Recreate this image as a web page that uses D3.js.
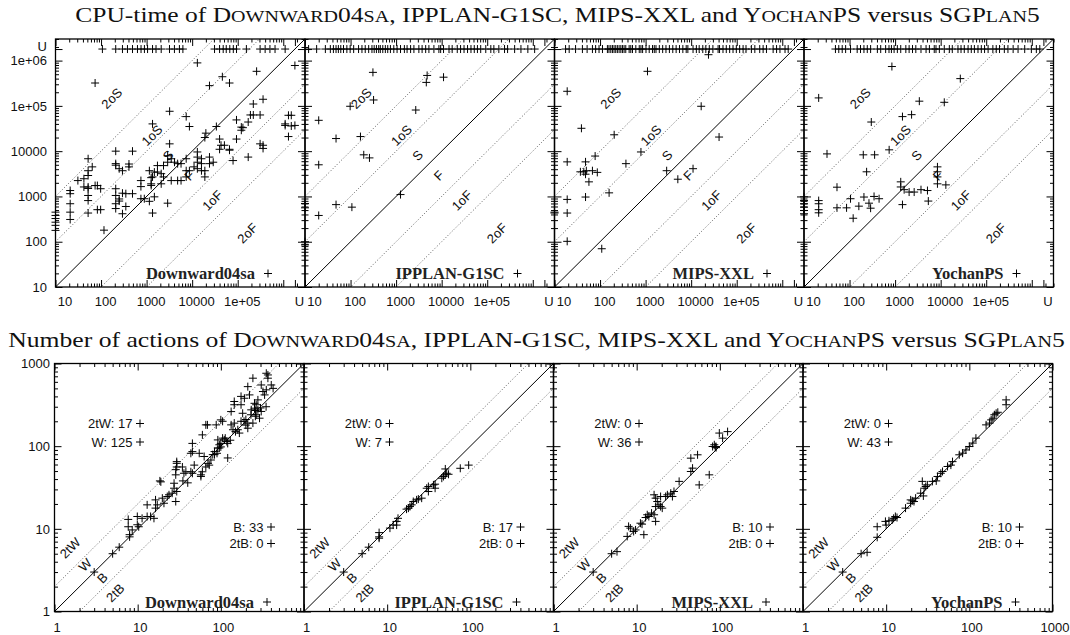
<!DOCTYPE html>
<html>
<head>
<meta charset="utf-8">
<script src="https://cdn.jsdelivr.net/npm/d3@7"></script>
<style>
  body { margin: 0; background: #fff; }
  svg { display: block; }
</style>
</head>
<body>
<svg id="chart" width="1070" height="635"></svg>
<script>
// ---------------------------------------------------------------------------
// Data: SGPlan5 (x) compared with four other planners (y).
// CPU time in milliseconds; "U" marks a problem that was not solved.
// ---------------------------------------------------------------------------
const UNSOLVED = 1.8e6;
const planners = ["Downward04sa", "IPPLAN-G1SC", "MIPS-XXL", "YochanPS"];

// x values (SGPlan5 time) of problems that the competitor left unsolved
const cpuUnsolvedDownward04sa = [107, 210, 295, 380, 490, 630, 755, 895, 1050, 1350, 1610, 2090, 3180, 4080, 5250, 6260,
  3.1e4, 4.0e4, 4.8e4, 5.6e4, 6.7e4, 8.0e4, 9.4e4, 1.55e5, 3.1e5, 4.0e5, 5.1e5, 6.6e5, 1.1e6];
const cpuUnsolvedIPPLAN = [12, 18, 28, 36, 42, 48, 54, 61, 70, 83, 98, 117, 150, 178, 210, 250, 295, 330, 370, 415, 450,
  510, 580, 655, 750, 890, 1050, 1250, 1520, 1740, 2080, 2460, 3160, 3720, 4460, 5250, 6760, 8700, 9500, 1.1e4, 1.45e4,
  1.7e4, 2.2e4, 2.6e4, 3.1e4, 3.7e4, 4.4e4, 5.2e4, 6.1e4, 7.2e4, 9.3e4, 1.2e5, 1.4e5, 1.8e5, 2.4e5, 2.8e5, 4.0e5,
  5.5e5, 7.8e5, 1.1e6];
const cpuUnsolvedMIPS = [17.5, 21, 29, 41, 52, 68, 80, 95, 113, 145, 157, 172, 187, 203, 221, 240, 262, 286, 310, 337,
  367, 435, 473, 515, 610, 725, 790, 860, 1020, 1200, 1420, 1550, 1690, 2000, 2370, 2800, 3330, 3950, 4680, 5540, 6570,
  7780, 8470, 1.1e4, 1.3e4, 1.5e4, 1.8e4, 2.1e4, 2.5e4, 3.0e4, 3.9e4, 4.2e4, 5.0e4, 5.9e4, 7.0e4, 8.3e4, 9.8e4, 1.16e5,
  1.38e5, 1.6e5, 2.1e5, 2.5e5, 3.2e5, 3.8e5, 4.5e5, 6.3e5, 7.5e5, 8.9e5, 1.15e6, 1.35e6];
const cpuUnsolvedYochan = [49, 58, 69, 82, 105, 147, 174, 207, 245, 290, 408, 483, 620, 735, 830, 950, 1120, 1330, 1720,
  2030, 2410, 2850, 3700, 4780, 5660, 7230, 7900, 9360, 1.2e4, 1.55e4, 1.8e4, 2.4e4, 2.8e4, 3.3e4, 4.0e4, 4.7e4, 5.5e4,
  6.6e4, 7.8e4, 9.2e4, 1.1e5, 1.4e5, 1.66e5, 1.96e5, 2.5e5, 3.0e5, 3.9e5, 5.0e5, 7.0e5, 9.8e5, 1.26e6, 1.5e6];

// problems solved by the competitor: [SGPlan5 time, competitor time]
const cpuDownward04sa = [
  [10, 450], [10, 380], [10, 325], [10, 270], [10, 230], [10, 178],
  [21, 1350], [21, 1150], [21, 690], [21, 450], [21, 310], [31, 2240], [42, 2460], [42, 1620],
  [52, 6800], [52, 3700], [52, 2900], [52, 1620], [52, 1500], [52, 1050], [52, 810], [52, 430],
  [64, 4500], [74, 1740], [74, 3.2e5], [83, 1740], [83, 510], [98, 1480], [98, 510], [116, 180],
  [210, 1.0e4], [210, 5300], [210, 4900], [210, 1480], [210, 1050], [210, 690], [210, 540],
  [250, 4100], [250, 880], [250, 790], [295, 3700], [295, 1180], [295, 415], [350, 1150], [350, 600],
  [410, 4500], [410, 5200], [490, 1.0e4], [490, 1150], [750, 2240], [750, 1650], [750, 890], [890, 890],
  [1150, 3700], [1150, 780], [1260, 1900], [1260, 1750], [1260, 2600], [1350, 2700], [1350, 430], [1350, 4.0e4],
  [1480, 980], [1480, 3450], [1730, 4800], [1730, 3450], [2090, 3180], [2090, 1900], [2350, 4800], [2350, 2700],
  [2900, 710], [2900, 5700], [2900, 7900], [3200, 7.6e4], [3200, 1.45e4], [3470, 2240], [3470, 6800], [4100, 5700],
  [4800, 2240], [4800, 5300], [5700, 5300], [5700, 2240], [7400, 5.8e4], [7400, 6800], [7400, 3700], [7400, 2700],
  [8700, 3.5e4], [8700, 3700], [1.1e4, 4500], [1.3e4, 9600], [1.3e4, 7400], [1.3e4, 5700], [1.3e4, 4100], [1.3e4, 8.9e5],
  [1.6e4, 6800], [1.6e4, 5300], [1.6e4, 3700], [1.9e4, 2.0e4], [1.9e4, 2700], [1.9e4, 3700], [2.0e4, 2.5e4],
  [2.4e4, 7400], [2.4e4, 5300], [2.4e4, 2.8e5], [2.9e4, 5700], [3.4e4, 3.5e4], [4.0e4, 1.85e4], [4.0e4, 1.1e4],
  [4.3e4, 1.35e4], [4.6e4, 4.4e5], [5.1e4, 1.35e4], [6.6e4, 1.1e4], [6.6e4, 1.05e4], [6.6e4, 3.2e5], [7.9e4, 6200],
  [9.4e4, 4.9e4], [9.4e4, 1.85e4], [1.2e5, 2.9e4], [1.2e5, 3.4e4], [1.3e5, 3.3e4], [1.7e5, 4.4e4], [1.7e5, 7400],
  [1.9e5, 6.3e4], [2.2e5, 1.1e5], [2.2e5, 6.3e4], [2.6e5, 5.8e5], [3.1e5, 6.3e4], [3.1e5, 1.45e4],
  [3.6e5, 1.4e5], [3.6e5, 1.35e4], [3.6e5, 1.15e4], [1.1e6, 4.0e4], [1.1e6, 3.7e4], [1.3e6, 6.2e4], [1.3e6, 2.1e4],
  [1.5e6, 6.2e4], [1.5e6, 3.6e4], ["U", 7.8e5], ["U", 3.7e4]
];
const cpuIPPLAN = [
  [310, 5.5e5], [4800, 4.7e5], [4600, 3.3e5], [1.1e4, 4.3e5], [98, 9.8e4], [320, 1.35e5], [2700, 8.1e4],
  [20, 4.8e4], [48, 1.9e4], [165, 2.1e4], [195, 8300], [260, 7100], [20, 5000], [48, 660], [107, 580], [20, 380],
  [1250, 1100], [10, 700], [10, 560], [10, 100], [10, 85]
];
const cpuMIPS = [
  [2.4e4, 1.35e6], [1100, 5.8e5], [19, 2.1e5], [1.66e4, 9.8e4], [39, 3.2e4], [204, 2.3e4], [4.1e4, 2.05e4],
  [790, 9600], [78, 7800], [19, 5800], [48, 5800], [370, 5300], [37, 3500], [44, 3500], [50, 3700], [68, 3700],
  [87, 3400], [48, 3100], [57, 2100], [2900, 3700], [5100, 2400], [1.1e4, 4100], [158, 1200], [19, 860], [48, 970],
  [19, 430], [19, 102], [109, 70], [10, 450], [10, 430]
];
const cpuYochan = [
  [850, 7.4e5], [2.7e4, 4.0e5], [21, 1.5e5], [3400, 1.27e5], [1.2e4, 1.2e5], [1450, 5.8e4], [2300, 6.4e4],
  [300, 4.4e4], [32, 8700], [200, 8300], [355, 8300], [740, 1.07e4], [237, 3500], [53, 1600], [105, 890], [207, 970],
  [345, 1000], [445, 890], [267, 710], [53, 560], [86, 560], [160, 610], [290, 550], [120, 330],
  [21, 810], [21, 690], [21, 510], [21, 435], [10, 980], [10, 810], [10, 690], [10, 580], [10, 490], [10, 415],
  [1330, 2100], [1330, 1620], [1580, 1410], [2030, 1250], [2620, 1250], [3700, 1410], [5130, 1350], [5360, 790],
  [1450, 660], [8500, 4500], [8500, 3500], [8500, 2700], [8500, 1900], [1.3e4, 1800]
];

// Number of actions: [SGPlan5 plan length, competitor plan length]
const actDownward04sa = [
  [3, 3], [5, 5], [6, 6], [8, 8], [8, 8.5], [7.7, 10.6], [7.7, 13], [8.6, 9.7], [9.9, 11.2], [9.9, 14.1], [11.3, 13.4],
  [13, 14.1], [13, 19.5], [14.3, 14.1], [15.7, 13.4], [10.3, 10.6], [16.4, 17.8], [16.4, 22.4], [17.2, 19.5],
  [18.5, 38], [19.8, 23.5], [20.7, 20.4], [19, 37], [22.7, 24.6], [23.8, 25.8], [26, 27], [27.4, 31], [27.4, 35.6],
  [28.7, 21.4], [29.5, 65], [29.5, 62], [28.7, 52], [28.7, 45], [29.5, 56], [29.5, 28.3], [34.5, 56], [36, 47],
  [38, 49], [35, 38], [43.6, 82], [45.5, 86], [43.6, 49], [45.5, 47], [47.9, 59], [45.5, 108], [55, 82], [57.6, 45],
  [57.6, 43], [60, 49], [63, 75], [66, 56], [60, 137], [66, 181], [69, 181], [72.5, 59], [76, 68], [80, 79], [84, 86],
  [88, 181], [92, 119], [96, 104], [100, 108], [84, 79], [92, 95], [96, 95], [100, 98], [100, 208], [105, 200],
  [105, 125], [110, 119], [113, 125], [118, 114], [121, 108], [121, 72], [133, 181], [145, 190], [140, 158],
  [160, 158], [167, 144], [175, 200], [175, 317], [183, 250], [192, 380], [211, 190], [211, 165], [221, 417],
  [232, 275], [243, 190], [254, 288], [254, 330], [266, 240], [266, 317], [279, 363], [292, 218], [306, 550],
  [321, 458], [336, 417], [352, 480], [368, 727], [352, 762], [368, 664], [404, 550], [306, 263], [279, 275],
  [425, 500], [243, 664], [211, 525], [175, 400], [145, 317], [145, 347], [133, 262], [150, 150], [200, 210],
  [230, 240], [260, 270], [300, 290], [190, 200], [40, 36], [70, 62], [90, 82], [130, 118], [200, 180], [260, 230],
  [350, 300]
];
const actIPPLAN = [
  [3, 3], [5, 5], [6, 6], [8, 8], [8, 9], [8, 7.7], [10.8, 10.2], [11.8, 11.1], [13, 12.3], [13.5, 13.4], [13, 11.1],
  [17.1, 17.3], [18, 17.8], [18.8, 18.6], [19.7, 19.5], [20.6, 21.4], [22.6, 22.4], [23.7, 22.9], [26, 23.5],
  [29.9, 31], [31.3, 32.5], [31.3, 28.3], [36, 34], [37.7, 31], [37.7, 34.7], [45.4, 41], [47.6, 43], [49.9, 45],
  [52, 47], [54.7, 45.7], [75.7, 54], [95.5, 59], [50, 53]
];
const actMIPS = [
  [3, 3], [5, 5], [5.8, 5.3], [7.7, 8.1], [8, 10.7], [8.4, 10.2], [9.2, 9.3], [9.7, 9.7], [11.1, 11.7], [11.6, 11.4],
  [12.2, 8.5], [12.8, 13.7], [13.4, 14.8], [14, 14.1], [15.1, 15.5], [16.2, 14.8], [16.9, 12.3], [16.2, 25.8],
  [16.9, 23.5], [16.9, 18.6], [17.7, 21.4], [18.5, 19.5], [19.4, 18.6], [19.4, 24.6], [20.3, 17.8], [22.3, 24.6],
  [23.4, 25.8], [25.7, 27], [26.9, 24.6], [28.1, 28.3], [32.4, 37.5], [44.8, 49.4], [44.8, 71.6], [47, 54.2],
  [54, 78.6], [56.5, 34], [74.6, 45], [81.9, 99], [90, 96], [85.8, 104], [98.6, 144], [124, 150], [108, 125],
  [90, 99], [88, 98]
];
const actYochan = [
  [3, 3], [5, 5], [5.9, 5.2], [7.8, 7.9], [7.8, 10.6], [9.8, 12.3], [10.8, 12.5], [11.8, 12.8], [12.3, 13.4],
  [12.9, 14.1], [13.5, 13.7], [10, 11.1], [17.1, 17.8], [19.7, 22.4], [19.7, 20.4], [20.6, 21.8], [21.6, 21.4],
  [22.6, 23.5], [26, 27], [27.2, 37.5], [28.6, 31], [29.9, 32.5], [31.3, 34], [36, 37.5], [41.4, 43], [45.4, 47],
  [47.6, 49.4], [54.7, 56.8], [60, 59], [62.8, 65], [75.7, 78.6], [83, 82.3], [91, 90], [100, 99], [110, 109],
  [120, 125], [159, 181], [175, 190], [183, 208], [192, 218], [200, 240], [210, 250], [220, 257], [277, 317],
  [277, 363], [28, 25], [40, 38]
];

// Counts of problems in each region of the plan-length plots
const count2tW = [17, 0, 0, 0];
const countW = [125, 7, 36, 43];
const countB = [33, 17, 10, 10];
const count2tB = [0, 0, 0, 0];

// Axis ticks and their labels
const cpuDomain = [10, 3e6];
const cpuYTicks = [10, 100, 1000, 10000, 1e5, 1e6, "U"];
const cpuYTickLabels = ["10", "100", "1000", "10000", "1e+05", "1e+06", "U"];
const cpuXTicks = [10, 100, 1000, 10000, 1e5, "U"];
const cpuXTickLabels = ["10", "100", "1000", "10000", "1e+05", "U"];
const actDomain = [1, 1000];
const actTicks = [1, 10, 100, 1000];
const actTickLabels = ["1", "10", "100", "1000"];

// Diagonal guides: factor applied to x, and the zone names written along them
const cpuGuides = [100, 10, 1, 0.1, 0.01];
const cpuZoneLabels = ["2oS", "1oS", "S", "F", "1oF", "2oF"];
const cpuZoneAt = [[172, 1.47e5], [1315, 2.23e4], [2970, 8070], [8630, 2920], [2.78e4, 820], [1.64e5, 155]];
const actGuides = [2, 1, 0.5];
const actZoneLabels = ["2tW", "W", "B", "2tB"];
const actZoneAt = [[1.54, 5.88], [2.33, 3.66], [3.75, 2.55], [5.38, 1.68]];

// ---------------------------------------------------------------------------
const svg = d3.select("#chart");
svg.append("rect").attr("width", 1070).attr("height", 635).attr("fill", "#fff");

const SANS = '"Liberation Sans", Arial, Helvetica, sans-serif';
const SERIF = '"Liberation Serif", "Times New Roman", Times, serif';
const CROSS = "M-4,0H4M0,-4V4";
const val = v => (v === "U" ? UNSOLVED : v);

function minorTicks(lo, hi) {
  const out = [];
  for (let d = lo; d < hi; d *= 10)
    for (let m = 2; m <= 9; m++) if (d * m <= hi) out.push(d * m);
  return out;
}

// Title with small-capital runs, widened to span the given width
function title(cx, baseline, width, parts) {
  const g = svg.append("g");
  const t = g.append("text")
    .attr("x", 0).attr("y", 0)
    .attr("text-anchor", "middle")
    .attr("font-family", SERIF)
    .attr("font-size", 21)
    .attr("fill", "#111");
  parts.forEach(([s, small]) => t.append("tspan").attr("font-size", small ? 16.5 : 21).text(s));
  const w = t.node().getComputedTextLength();
  g.attr("transform", `translate(${cx},${baseline}) scale(${width / w},1)`);
}

// planner names set in small capitals: [text, isSmallCap]
const titleTail = [["D", 0], ["OWNWARD", 1], ["04", 0], ["SA", 1],
  [", IPPLAN-G1SC, MIPS-XXL and Y", 0], ["OCHAN", 1], ["PS versus SGP", 0], ["LAN", 1], ["5", 0]];
title(557.5, 21.5, 965, [["CPU-time of ", 0], ...titleTail]);
title(536.5, 347, 1057, [["Number of actions of ", 0], ...titleTail]);

function drawPanel(cfg) {
  const { id, x0, y0, w, h, domain } = cfg;
  const g = svg.append("g").attr("transform", `translate(${x0},${y0})`);
  const x = d3.scaleLog().domain(domain).range([0, w]);
  const y = d3.scaleLog().domain(domain).range([h, 0]);

  const clipId = "clip-" + id;
  g.append("clipPath").attr("id", clipId)
    .append("rect").attr("width", w).attr("height", h);

  // diagonal guides
  const guides = g.append("g").attr("clip-path", `url(#${clipId})`);
  cfg.guides.forEach(r => {
    guides.append("line")
      .attr("x1", x(domain[0])).attr("y1", y(domain[0] * r))
      .attr("x2", x(domain[1])).attr("y2", y(domain[1] * r))
      .attr("stroke", r === 1 ? "#000" : "#333")
      .attr("stroke-width", r === 1 ? 1 : 0.8)
      .attr("stroke-dasharray", r === 1 ? null : "1,2");
  });

  // zone names along the guides
  cfg.zoneLabels.forEach((name, i) => {
    const [zx, zy] = cfg.zoneAt[i];
    g.append("text")
      .attr("transform", `translate(${x(zx)},${y(zy)}) rotate(-45)`)
      .attr("text-anchor", "middle").attr("dy", "0.35em")
      .attr("font-family", SANS).attr("font-size", 13).attr("fill", "#111")
      .text(name);
  });

  // ticks
  const put = (axis, tx, ty) => {
    const a = g.append("g").attr("transform", `translate(${tx},${ty})`).call(axis);
    a.select(".domain").remove();
    a.attr("font-family", SANS).attr("font-size", 13).attr("color", "#000");
    a.selectAll("text").attr("fill", "#111");
    return a;
  };
  const minors = minorTicks(domain[0], domain[1]);
  const blank = () => "";
  put(d3.axisLeft(y).tickValues(minors).tickSize(-3.5).tickFormat(blank), 0, 0);
  put(d3.axisRight(y).tickValues(minors).tickSize(-3.5).tickFormat(blank), w, 0);
  put(d3.axisBottom(x).tickValues(minors).tickSize(-3.5).tickFormat(blank), 0, h);
  put(d3.axisTop(x).tickValues(minors).tickSize(-3.5).tickFormat(blank), 0, 0);

  const yLab = new Map(cfg.yTicks.map((t, i) => [val(t), cfg.yLabels[i]]));
  const xLab = new Map(cfg.xTicks.map((t, i) => [val(t), cfg.xLabels[i]]));
  const majorsY = cfg.yTicks.map(val);
  const majorsX = cfg.xMajor.map(val);

  const ly = put(d3.axisLeft(y).tickValues(majorsY).tickSize(-7).tickPadding(cfg.padY)
    .tickFormat(d => (cfg.showY ? yLab.get(d) : "")), 0, 0);
  ly.selectAll("text").attr("y", d => (d === UNSOLVED ? -3 : 0));
  put(d3.axisRight(y).tickValues(majorsY).tickSize(-7).tickFormat(blank), w, 0);
  const bx = put(d3.axisBottom(x).tickValues(majorsX).tickSize(-7).tickPadding(cfg.padX)
    .tickFormat(d => xLab.get(d) || ""), 0, h);
  bx.selectAll("text").attr("dx", d => cfg.labelDx(d));
  put(d3.axisTop(x).tickValues(majorsX).tickSize(-7).tickFormat(blank), 0, 0);

  // frame
  g.append("rect").attr("width", w).attr("height", h)
    .attr("fill", "none").attr("stroke", "#000").attr("stroke-width", 1.3);

  // key
  g.append("text")
    .attr("x", w - 50).attr("y", cfg.keyY).attr("dy", "0.35em")
    .attr("text-anchor", "end")
    .attr("font-family", SERIF).attr("font-weight", "bold").attr("font-size", 16.5)
    .attr("fill", "#222")
    .text(cfg.name);
  g.append("path").attr("d", CROSS)
    .attr("transform", `translate(${w - 37},${cfg.keyY})`)
    .attr("stroke", "#000").attr("fill", "none");

  // points
  g.append("g").selectAll("path").data(cfg.points).join("path")
    .attr("d", CROSS)
    .attr("transform", d => `translate(${x(val(d[0]))},${y(val(d[1]))})`)
    .attr("stroke", "#000").attr("stroke-width", 1).attr("fill", "none");

  return g;
}

const panelW = 249.5;
const cpuData = [cpuDownward04sa, cpuIPPLAN, cpuMIPS, cpuYochan];
const cpuUnsolved = [cpuUnsolvedDownward04sa, cpuUnsolvedIPPLAN, cpuUnsolvedMIPS, cpuUnsolvedYochan];
const actData = [actDownward04sa, actIPPLAN, actMIPS, actYochan];

planners.forEach((name, i) => {
  drawPanel({
    id: "cpu" + i, name,
    x0: 55.5 + i * panelW, y0: 39, w: panelW, h: 248,
    domain: cpuDomain,
    guides: cpuGuides, zoneLabels: cpuZoneLabels, zoneAt: cpuZoneAt,
    yTicks: cpuYTicks, yLabels: cpuYTickLabels, showY: i === 0, padY: 8.5,
    xTicks: cpuXTicks, xLabels: cpuXTickLabels, xMajor: [10, 100, 1000, 10000, 1e5, 1e6, "U"], padX: 10,
    labelDx: d => (d === 10 ? 9 : 4),
    keyY: 234.5,
    points: cpuData[i].concat(cpuUnsolved[i].map(v => [v, "U"]))
  });

  const g = drawPanel({
    id: "act" + i, name,
    x0: 54.5 + i * panelW, y0: 363.5, w: panelW, h: 248,
    domain: actDomain,
    guides: actGuides, zoneLabels: actZoneLabels, zoneAt: actZoneAt,
    yTicks: actTicks, yLabels: actTickLabels, showY: i === 0, padY: 4.5,
    xTicks: i === 3 ? actTicks : actTicks.slice(0, 3),
    xLabels: i === 3 ? actTickLabels : actTickLabels.slice(0, 3),
    xMajor: actTicks, padX: 11,
    labelDx: () => 2,
    keyY: 238.5,
    points: actData[i]
  });

  // region counts
  const rows = [
    ["2tW", count2tW[i], 78, 60], ["W", countW[i], 78, 78.5],
    ["B", countB[i], 209, 163.5], ["2tB", count2tB[i], 209, 180]
  ];
  rows.forEach(([lab, n, tx, ty]) => {
    g.append("text")
      .attr("x", tx).attr("y", ty).attr("dy", "0.35em")
      .attr("text-anchor", "end")
      .attr("font-family", SANS).attr("font-size", 13).attr("fill", "#111")
      .text(`${lab}: ${n}`);
    g.append("path").attr("d", CROSS)
      .attr("transform", `translate(${tx + 7.5},${ty})`)
      .attr("stroke", "#000").attr("fill", "none");
  });
});
</script>
</body>
</html>
